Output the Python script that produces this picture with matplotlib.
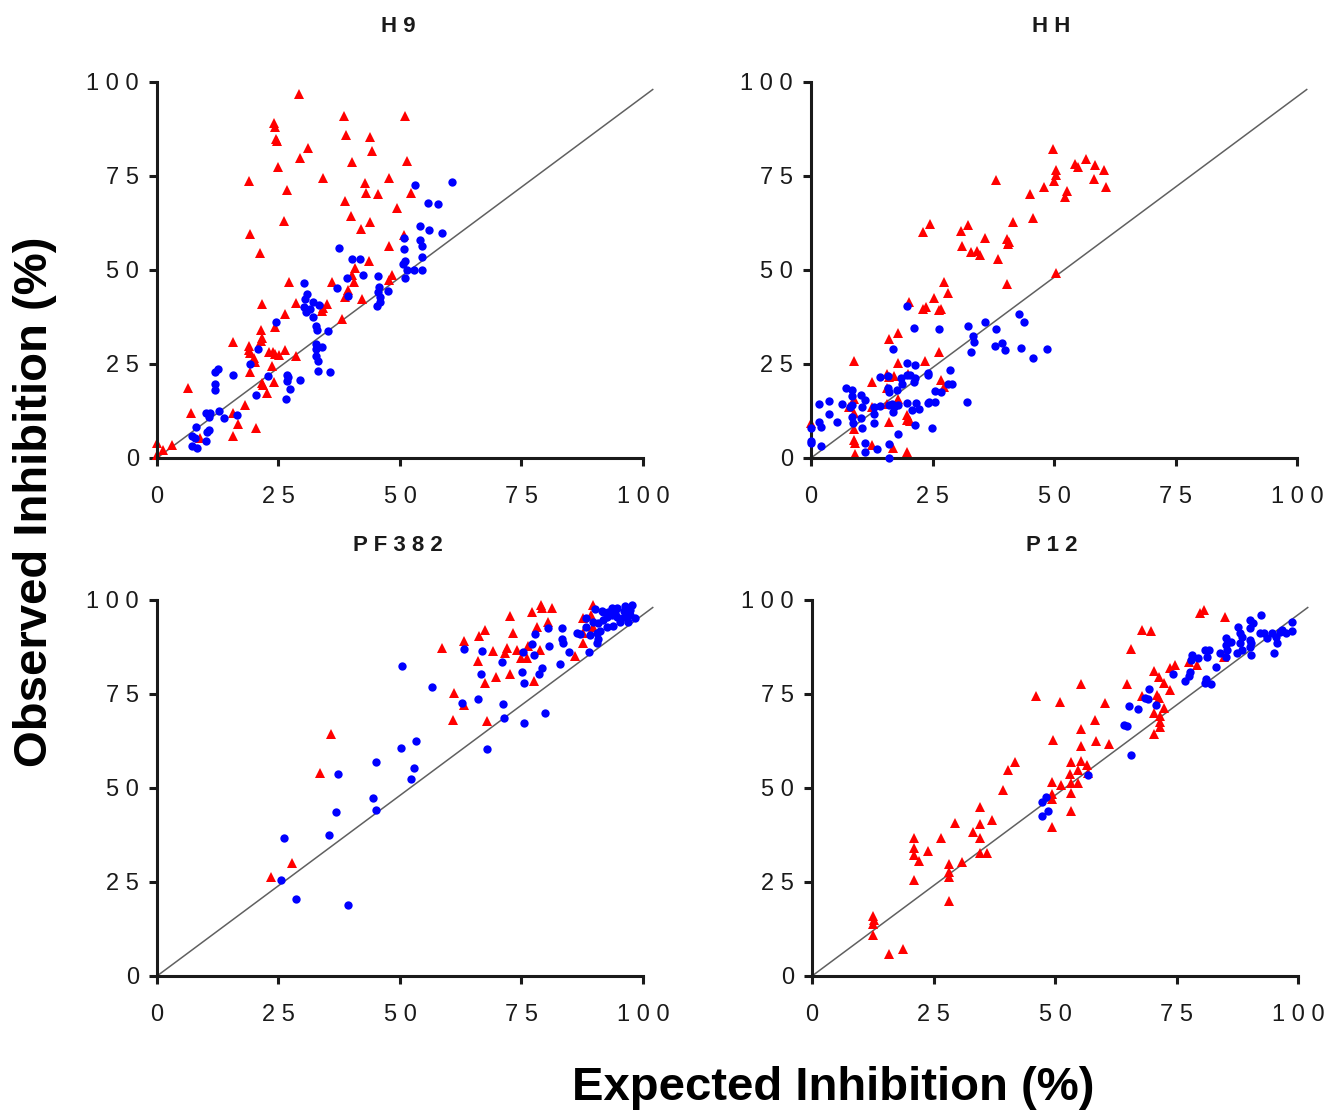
import matplotlib
matplotlib.use("Agg")
import matplotlib.pyplot as plt

# ---- data (expected %, observed %) ----
h9_red_x = [29.2, 24.1, 24.3, 24.4, 24.6, 38.5, 51.1, 38.8, 43.9, 31.0, 44.3, 29.5, 40.1, 51.4, 24.9,
            19.0, 34.1, 42.7, 47.7, 26.7, 43.0, 45.4, 52.3, 38.6, 49.3, 26.1, 40.0, 43.9, 41.9, 19.1,
            21.1, 47.7, 50.8, 43.6, 40.8, 40.1, 40.5, 48.4, 47.7, 36.0, 27.2, 39.4, 38.6, 42.2, 28.7,
            21.7, 35.0, 34.2, 34.0, 26.4, 38.0, 24.2, 21.5, 21.7, 21.5, 15.6, 19.0, 18.9, 19.1, 23.0,
            23.9, 24.2, 25.2, 26.4, 28.7, 20.0, 20.2, 23.7, 19.1, 6.4, 21.7, 21.9, 24.1, 22.6, 18.1,
            6.9, 15.6, 16.6, 20.4, 15.6, 8.8, 0.0, 1.2, 3.0, 0.0]
h9_red_y = [96.8, 89.0, 88.0, 84.8, 84.3, 91.0, 91.0, 85.9, 85.3, 82.4, 81.7, 79.8, 78.8, 79.0, 77.4,
            73.8, 74.4, 73.1, 74.5, 71.3, 70.5, 70.3, 70.4, 68.3, 66.6, 62.9, 64.3, 62.8, 61.0, 59.6,
            54.6, 56.5, 59.3, 52.4, 50.5, 48.7, 46.7, 48.7, 47.3, 46.8, 46.7, 44.7, 42.7, 42.4, 41.1,
            40.9, 40.9, 39.8, 39.2, 38.3, 36.9, 34.8, 34.0, 31.8, 31.1, 30.9, 29.7, 28.7, 27.8, 28.2,
            28.2, 27.7, 27.3, 28.6, 27.0, 26.7, 25.6, 24.5, 22.9, 18.6, 20.0, 19.4, 20.2, 17.2, 14.0,
            11.9, 11.9, 9.0, 7.9, 5.9, 5.2, 3.9, 2.1, 3.5, 0.8]
h9_blue_x = [53.1, 60.6, 55.7, 57.8, 54.1, 56.0, 58.7, 50.9, 54.1, 54.5, 50.8, 54.5, 37.4, 40.2, 41.8,
             51.0, 50.7, 51.4, 52.9, 54.5, 51.1, 42.3, 39.0, 45.4, 30.3, 37.0, 45.7, 45.4, 47.5, 39.4,
             45.8, 45.9, 45.3, 30.9, 30.4, 32.2, 33.3, 30.3, 31.5, 30.7, 32.2, 32.7, 33.0, 35.1, 24.4,
             32.7, 33.9, 32.7, 32.7, 33.2, 33.1, 35.5, 20.7, 19.1, 11.9, 12.6, 15.6, 22.8, 12.0, 12.0,
             26.7, 26.9, 26.7, 29.5, 27.4, 20.4, 26.6, 12.8, 10.0, 10.9, 10.6, 13.8, 16.5, 8.0, 10.2,
             10.6, 7.1, 7.8, 10.1, 7.3, 8.3]
h9_blue_y = [72.5, 73.4, 67.8, 67.5, 61.8, 60.6, 59.9, 58.6, 58.0, 56.5, 55.6, 53.4, 55.9, 52.8, 52.8,
             52.5, 51.6, 50.0, 49.9, 49.9, 48.0, 48.8, 47.9, 48.5, 46.5, 45.2, 45.4, 44.1, 44.3, 43.2,
             42.9, 41.4, 40.4, 43.7, 42.2, 41.4, 40.7, 40.1, 39.5, 38.7, 37.6, 35.2, 34.0, 33.8, 36.1,
             30.3, 29.5, 29.0, 27.2, 25.8, 23.1, 23.0, 29.0, 25.0, 22.9, 23.6, 22.2, 21.9, 19.6, 18.1,
             22.1, 21.6, 20.5, 20.7, 18.3, 16.7, 15.7, 12.6, 12.1, 12.1, 11.0, 10.6, 11.5, 8.3, 7.0,
             7.4, 5.9, 5.2, 4.4, 3.2, 2.7]

hh_red_x = [49.8, 54.4, 54.9, 56.6, 58.5, 60.2, 50.4, 50.4, 50.1, 58.2, 60.7, 38.0, 47.9, 45.1, 52.6,
            52.2, 41.6, 45.7, 24.5, 23.0, 30.8, 32.4, 35.7, 40.3, 40.8, 40.5, 31.1, 33.0, 34.1, 34.8,
            38.4, 50.4, 27.4, 40.4, 28.2, 25.3, 20.1, 23.1, 23.6, 26.4, 26.7, 18.0, 16.1, 26.4, 8.8,
            17.9, 23.5, 12.5, 15.7, 16.0, 17.0, 26.7, 27.4, 20.0, 15.6, 8.8, 7.9, 12.5, 15.6, 18.0,
            8.8, 19.7, 19.8, 20.4, 16.1, 8.8, 0.0, 8.8, 9.0, 12.5, 16.9, 19.8, 9.0]
hh_red_y = [82.1, 78.2, 77.5, 79.5, 78.0, 76.6, 76.6, 75.2, 73.8, 74.1, 72.2, 73.9, 72.0, 70.1, 71.0,
            69.5, 62.7, 63.7, 62.2, 60.2, 60.5, 62.0, 58.6, 58.2, 57.4, 56.8, 56.3, 54.9, 55.1, 54.0,
            52.8, 49.1, 46.9, 46.2, 44.0, 42.5, 41.6, 39.5, 40.1, 39.4, 39.5, 33.2, 31.6, 28.3, 25.8,
            25.3, 25.9, 20.1, 22.3, 21.5, 21.8, 20.7, 18.8, 22.3, 18.5, 15.6, 13.6, 13.6, 14.3, 15.7,
            11.9, 11.4, 10.1, 9.8, 9.7, 7.6, 9.2, 4.8, 3.9, 3.5, 2.6, 1.5, 1.0]
hh_blue_x = [19.8, 21.2, 26.4, 42.9, 43.8, 32.4, 35.8, 38.1, 33.4, 33.5, 37.9, 39.2, 39.9, 32.9, 43.2,
             45.7, 48.6, 16.9, 19.8, 21.5, 14.1, 15.8, 18.5, 19.7, 20.4, 21.4, 21.2, 24.0, 24.1, 28.7,
             18.7, 17.6, 15.9, 16.0, 25.5, 26.7, 28.2, 29.0, 7.1, 8.4, 8.5, 10.2, 11.1, 1.6, 3.8,
             6.3, 8.4, 8.0, 10.4, 13.0, 14.3, 16.1, 16.6, 17.1, 18.0, 16.9, 19.8, 21.6, 20.7, 22.2,
             24.0, 24.3, 25.5, 32.2, 3.7, 5.3, 1.7, 2.1, 8.5, 8.6, 10.3, 10.4, 13.0, 13.0, 17.8,
             21.5, 24.8, 0.0, 0.0, 0.0, 2.0, 11.1, 11.1, 13.5, 16.1, 16.1]
hh_blue_y = [40.5, 34.7, 34.2, 38.2, 36.1, 35.0, 36.2, 34.4, 32.5, 30.9, 29.9, 30.5, 28.7, 28.2, 29.2,
             26.5, 29.1, 29.0, 25.3, 24.7, 21.5, 21.9, 21.4, 22.0, 22.0, 21.4, 20.3, 22.7, 22.1, 23.4,
             19.6, 18.1, 18.5, 17.5, 17.9, 17.6, 19.7, 19.7, 18.7, 18.1, 16.5, 16.8, 15.4, 14.4, 15.2,
             14.3, 14.1, 13.6, 13.5, 13.6, 13.9, 14.1, 14.4, 13.6, 14.1, 12.3, 14.5, 14.7, 12.8, 13.1,
             14.5, 14.8, 14.8, 14.8, 11.7, 9.5, 9.5, 8.2, 11.0, 9.2, 10.7, 7.9, 11.6, 9.2, 6.4,
             8.8, 8.1, 7.9, 4.6, 3.9, 3.3, 4.1, 1.7, 2.4, 3.6, 0.1]

pf_red_x = [89.8, 79.0, 79.2, 81.2, 77.1, 72.7, 67.5, 66.2, 63.2, 58.7, 73.2, 78.1, 80.4, 69.2, 71.6,
            72.1, 74.1, 76.4, 78.8, 74.9, 76.2, 66.1, 69.7, 72.6, 67.5, 77.6, 87.7, 86.1, 87.7, 89.4,
            87.7, 89.8, 61.1, 63.2, 61.0, 68.0, 35.9, 33.5, 27.7, 23.5]
pf_red_y = [98.7, 98.7, 97.8, 98.0, 96.7, 95.8, 92.0, 90.5, 89.2, 87.3, 91.1, 92.7, 94.2, 86.4, 86.0,
            87.3, 86.7, 87.8, 86.7, 84.5, 84.5, 83.9, 79.4, 80.3, 78.0, 78.5, 88.5, 85.2, 95.1, 96.0,
            91.1, 92.9, 75.3, 72.1, 68.1, 67.9, 64.4, 54.1, 30.0, 26.3]
pf_blue_x = [50.5, 56.6, 62.8, 66.0, 71.1, 71.3, 75.5, 79.8, 68.0, 50.2, 53.3, 45.0, 52.8, 52.3, 37.2,
             44.5, 45.1, 36.8, 35.3, 26.1, 25.6, 28.7, 39.4, 63.2, 66.8, 66.6, 71.0, 75.1, 75.5, 75.4,
             77.2, 77.6, 79.2, 78.5, 77.7, 80.5, 80.7, 82.9, 83.4, 83.3, 83.5, 84.8, 88.8, 86.4, 87.0,
             88.3, 88.3, 89.0, 90.5, 91.2, 90.8, 90.5, 90.1, 91.5, 93.6, 94.6, 96.3, 97.8, 89.8, 90.8,
             91.8, 92.5, 93.6, 94.6, 96.0, 97.3, 98.4, 92.5, 93.9, 95.3, 96.9, 91.8, 92.9, 94.2, 96.0,
             97.3]
pf_blue_y = [82.4, 76.9, 72.7, 73.6, 72.4, 68.6, 67.3, 69.9, 60.3, 60.7, 62.4, 56.9, 55.3, 52.5, 53.6,
             47.4, 44.1, 43.7, 37.5, 36.6, 25.5, 20.5, 18.8, 86.9, 86.5, 80.2, 83.6, 80.8, 78.0, 86.1,
             88.2, 85.5, 82.0, 80.3, 91.0, 92.5, 87.7, 83.0, 92.6, 89.6, 88.6, 86.2, 86.1, 91.1, 90.9,
             95.2, 92.9, 90.7, 91.3, 91.8, 89.6, 88.5, 97.6, 97.2, 98.0, 98.0, 98.5, 98.7, 94.2, 93.8,
             94.7, 95.6, 96.0, 95.4, 95.6, 96.0, 95.3, 92.9, 93.1, 94.2, 94.2, 96.9, 96.9, 96.5, 97.2,
             97.4]

p12_red_x = [80.6, 79.9, 84.9, 68.0, 69.7, 65.6, 77.5, 79.2, 73.7, 74.6, 70.4, 71.5, 72.5, 73.6, 70.9,
             71.4, 72.5, 70.4, 71.6, 71.6, 71.6, 70.4, 68.0, 64.9, 84.7, 55.4, 46.1, 51.0, 60.3, 58.2,
             55.4, 49.5, 58.5, 61.1, 55.4, 53.2, 55.4, 56.5, 54.8, 56.8, 53.0, 53.2, 54.8, 49.4, 51.2,
             53.2, 49.3, 49.3, 53.2, 49.4, 41.7, 40.4, 39.2, 34.6, 29.5, 26.5, 34.6, 33.2, 34.6, 37.0,
             34.6, 36.0, 30.8, 20.9, 20.9, 20.9, 22.0, 23.8, 20.9, 28.1, 28.1, 28.1, 28.1, 12.6, 12.6,
             12.6, 12.7, 15.8, 18.8]
p12_red_y = [97.3, 96.6, 95.4, 92.0, 91.7, 87.0, 83.4, 82.7, 82.0, 82.7, 81.1, 79.4, 77.8, 76.0, 74.7,
             74.0, 71.4, 70.0, 69.1, 67.6, 66.3, 64.3, 74.4, 77.6, 84.9, 77.6, 74.6, 72.9, 72.5, 68.1,
             65.8, 62.7, 62.5, 61.7, 61.2, 57.0, 57.1, 56.1, 54.8, 54.0, 53.6, 51.4, 51.4, 51.6, 50.8,
             48.7, 48.5, 47.2, 43.8, 39.7, 56.8, 54.7, 49.4, 45.0, 40.6, 36.8, 40.3, 38.3, 36.8, 41.6,
             32.7, 32.8, 30.3, 36.6, 34.1, 32.1, 30.5, 33.2, 25.6, 29.9, 27.7, 26.2, 20.0, 16.0, 13.9,
             10.8, 14.8, 5.9, 7.3]
p12_blue_x = [92.4, 98.7, 87.6, 90.2, 90.8, 88.0, 88.5, 90.2, 85.1, 86.2, 85.1, 88.1, 90.2, 90.4, 92.1,
              93.0, 93.7, 94.7, 95.4, 96.2, 96.8, 97.5, 98.7, 95.7, 95.0, 84.0, 85.1, 85.4, 87.5, 88.5,
              90.2, 90.4, 78.2, 79.5, 80.9, 81.6, 81.3, 78.0, 83.1, 74.2, 77.7, 77.5, 76.8, 81.1, 80.8,
              82.0, 69.4, 68.5, 69.2, 70.8, 65.2, 67.1, 64.3, 64.9, 65.6, 56.7, 47.3, 48.2, 47.3, 48.6]
p12_blue_y = [96.0, 94.1, 92.9, 94.7, 93.8, 91.1, 90.2, 92.5, 89.8, 88.9, 88.0, 88.5, 89.4, 88.5, 91.1,
              91.1, 89.8, 91.1, 90.2, 91.6, 92.0, 91.1, 91.7, 88.5, 86.0, 85.8, 84.9, 86.7, 85.8, 86.7,
              87.6, 85.4, 85.4, 84.5, 86.7, 86.7, 84.9, 84.0, 82.1, 80.3, 80.9, 79.8, 78.5, 79.0, 77.8,
              77.6, 76.3, 74.0, 73.6, 72.2, 71.8, 70.9, 66.7, 66.5, 58.7, 53.4, 46.3, 47.6, 42.6, 43.9]

ticks = [0, 25, 50, 75, 100]
tick_labels = ["0", "2 5", "5 0", "7 5", "1 0 0"]

panels = [
    ("H 9", (157, 82), h9_red_x, h9_red_y, h9_blue_x, h9_blue_y, (398, 27)),
    ("H H", (811, 82), hh_red_x, hh_red_y, hh_blue_x, hh_blue_y, (1051, 27)),
    ("P F 3 8 2", (157, 600), pf_red_x, pf_red_y, pf_blue_x, pf_blue_y, (398, 545)),
    ("P 1 2", (812, 600), p12_red_x, p12_red_y, p12_blue_x, p12_blue_y, (1052, 545)),
]

plt.rcParams['font.family'] = ['Liberation Sans', 'DejaVu Sans']

W, H = 1326, 1115
fig = plt.figure(figsize=(W / 100, H / 100), dpi=100)

for title, (left, top), rx, ry, bx, by, (tx, ty) in panels:
    ax = fig.add_axes([left / W, 1 - (top + 376) / H, 486 / W, 376 / H])
    ax.set_xlim(0, 100)
    ax.set_ylim(0, 100)
    ax.plot([0, 102], [0, 98], color='#606060', lw=1.1, clip_on=False, zorder=1)
    ax.plot(rx, ry, linestyle='none', marker='^', markersize=6.8, color='#ff0000',
            markeredgewidth=0, clip_on=False, zorder=2)
    ax.plot(bx, by, linestyle='none', marker='o', markersize=6, color='#0000ff',
            markeredgewidth=0, clip_on=False, zorder=3)
    for s in ['top', 'right']:
        ax.spines[s].set_visible(False)
    for s in ['left', 'bottom']:
        ax.spines[s].set_linewidth(2.2)
        ax.spines[s].set_color('#1a1a1a')
    ax.set_xticks(ticks)
    ax.set_xticklabels(tick_labels)
    ax.set_yticks(ticks)
    ax.set_yticklabels(tick_labels)
    ax.tick_params(axis='both', direction='out', length=6, width=2.2, color='#1a1a1a',
                   labelsize=17, labelcolor='#1a1a1a')
    ax.tick_params(axis='x', pad=14)
    ax.tick_params(axis='y', pad=7)
    fig.text(tx / W, 1 - ty / H, title, ha='center', va='center', fontsize=16,
             fontweight='bold', color='#1a1a1a')

fig.text(833 / W, 1 - 1088 / H, "Expected Inhibition (%)", ha='center', va='center',
         fontsize=34, fontweight='bold')
fig.text(35 / W, 1 - 502 / H, "Observed Inhibition (%)", ha='center', va='center',
         fontsize=34, fontweight='bold', rotation=90)

fig.savefig("out.png", dpi=100)
